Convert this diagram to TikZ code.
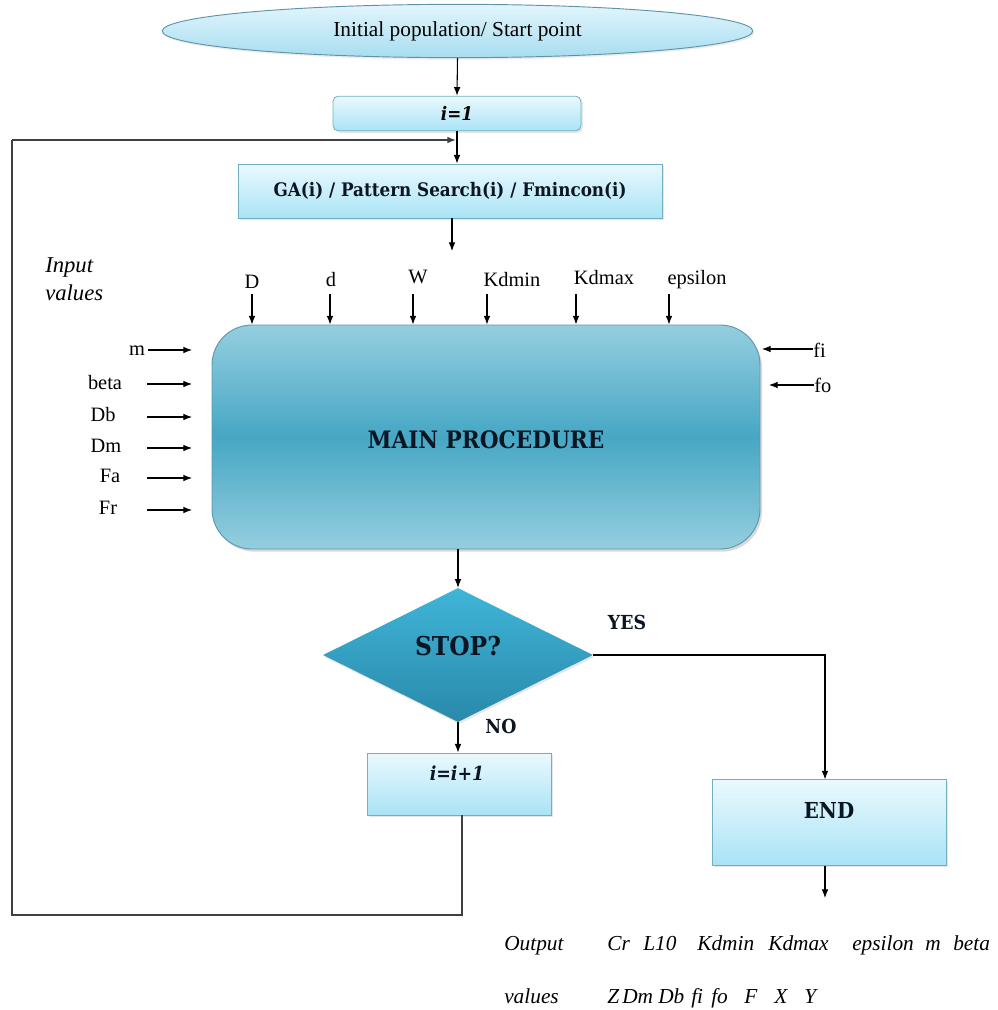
\documentclass[tikz,border=0pt]{standalone}
\usepackage{fontspec}
\setmainfont{Liberation Serif}
\newfontfamily\heavy{DejaVu Serif Condensed}
\usetikzlibrary{arrows.meta,shapes.geometric,shadows}

\definecolor{boxtop}{HTML}{EAF9FE}
\definecolor{boxbot}{HTML}{A9E3F6}
\definecolor{boxedge}{HTML}{74AEC2}
\definecolor{elltop}{HTML}{E2F5FC}
\definecolor{ellbot}{HTML}{A7DDF0}
\definecolor{elledge}{HTML}{5E93A8}
\definecolor{mainlight}{HTML}{95CEDF}
\definecolor{maindark}{HTML}{46A7C5}
\definecolor{mainedge}{HTML}{5C97AC}
\definecolor{stoptop}{HTML}{3FB5D8}
\definecolor{stopbot}{HTML}{2A89AA}
\definecolor{ink}{HTML}{0B1622}

\begin{document}
\begin{tikzpicture}[x=0.75pt,y=-0.75pt,
  arr/.style={-{Latex[length=6.5pt,width=5pt]}, line width=0.8pt, black},
  loopline/.style={line width=1pt, black!75},
  lightbox/.style={draw=boxedge, line width=0.6pt, top color=boxtop, bottom color=boxbot,
    inner sep=0pt, drop shadow={opacity=0.2, shadow xshift=1.5pt, shadow yshift=-1.5pt}},
  lbl/.style={font=\fontsize{15.3}{18}\selectfont, inner sep=0pt},
  ital/.style={font=\fontsize{16}{19}\selectfont\itshape, inner sep=0pt},
  bold/.style={font=\fontsize{14}{17}\selectfont\heavy\bfseries, text=ink, inner sep=0pt},
]
\useasboundingbox (0,0) rectangle (998,1010);

% start ellipse
\node[ellipse, draw=elledge, line width=0.7pt, top color=elltop, bottom color=ellbot,
  minimum width=443pt, minimum height=40pt, inner sep=0pt,
  drop shadow={opacity=0.15, shadow xshift=1pt, shadow yshift=-1.5pt}] (start) at (457.5,31)
  {\fontsize{16}{19}\selectfont Initial population/ Start point};

% counter initialisation
\node[lightbox, rounded corners=4pt, minimum width=186pt, minimum height=26pt] (i1) at (457,113.5)
  {\fontsize{14}{16}\selectfont\heavy\bfseries\itshape i=1};

% optimiser box
\node[lightbox, minimum width=318pt, minimum height=40.5pt, bold] (ga) at (450,191)
  {GA(i) / Pattern Search(i) / Fmincon(i)};

% main procedure
\node[draw=mainedge, line width=0.7pt, rounded corners=30pt, top color=mainlight, bottom color=mainlight,
  middle color=maindark, minimum width=411pt, minimum height=168pt, inner sep=0pt,
  drop shadow={opacity=0.3, shadow xshift=1.5pt, shadow yshift=-2pt}] (main) at (486,437) {};
\node[bold, font=\fontsize{18}{21}\selectfont\heavy\bfseries] (mainlbl) at (486,440) {MAIN PROCEDURE};

% decision
\node[diamond, top color=stoptop, bottom color=stopbot,
  minimum width=202.5pt, minimum height=100.5pt, inner sep=0pt,
  drop shadow={opacity=0.2, shadow xshift=1pt, shadow yshift=-1.5pt}] (stop) at (458,655) {};
\node[bold, font=\fontsize{19.5}{22}\selectfont\heavy\bfseries] (stoplbl) at (458,646) {STOP?};
\node[bold, font=\fontsize{14.5}{17}\selectfont\heavy\bfseries] (yes) at (627,622) {YES};
\node[bold, font=\fontsize{14.5}{17}\selectfont\heavy\bfseries] (no) at (501,726) {NO};

% increment and end boxes
\node[lightbox, minimum width=138pt, minimum height=46.5pt] (inc) at (459,784) {};
\node[bold, font=\fontsize{14.5}{17}\selectfont\heavy\bfseries\itshape] (inclbl) at (457,773) {i=i+1};
\node[lightbox, minimum width=175.5pt, minimum height=64pt] (endb) at (829,822.5) {};
\node[bold, font=\fontsize{16.5}{19}\selectfont\heavy\bfseries] (endlbl) at (829,810) {END};

% main flow
\draw[arr] (start.south) -- (i1.north);
\draw[arr] (i1.south) -- (i1.south |- ga.north);
\coordinate (gaout) at (452,251);
\draw[arr] (ga.south -| gaout) -- (gaout);
\draw[arr] (stop.north |- main.south) -- (stop.north);
\draw[arr] (stop.south) -- (stop.south |- inc.north);
\coordinate (yescol) at (825,0);
\draw[arr] (stop.east) -| (yescol |- endb.north);
\coordinate (endout) at (825,898);
\draw[arr] (endout |- endb.south) -- (endout);

% feedback loop
\coordinate (loopbot) at (462,915);
\coordinate (loopleft) at (12,140);
\coordinate (merge) at (456,140);
\draw[loopline] (loopbot |- inc.south) -- (loopbot) -| (loopleft);
\draw[loopline, -{Latex[length=6.5pt,width=5pt]}] (loopleft) -- (merge);

% input values
\node[ital, anchor=north west, align=left, font=\fontsize{17}{21}\selectfont\itshape] (inlbl) at (45,257) {Input\\values};

\foreach \name/\lx/\ly/\ax in {D/252/282/252, d/331/280/330, W/418/277/413,
    Kdmin/512/280/487, Kdmax/604/278/576, epsilon/697/280/669} {
  \node[lbl] (top-\name) at (\lx,\ly) {\name};
  \coordinate (tin-\name) at (\ax,294);
  \draw[arr] (tin-\name) -- (tin-\name |- main.north);
}

\foreach \name/\lx/\ly/\ax/\ay in {m/137/351/148/350, beta/105/383/147/384, Db/103/415/147/417,
    Dm/106/446/147/448, Fa/110/476/147/478, Fr/108/508/147/510} {
  \node[lbl] (left-\name) at (\lx,\ly) {\name};
  \coordinate (lin-\name) at (\ax,\ay);
  \coordinate (lend-\name) at (192,\ay);
  \draw[arr] (lin-\name) -- (lend-\name);
}

\node[lbl, anchor=west] (fi) at (813,350) {fi};
\coordinate (fiend) at (762,349);
\draw[arr] (fi.west |- fiend) -- (fiend);
\node[lbl, anchor=west] (fo) at (814,385) {fo};
\coordinate (foend) at (769,385);
\draw[arr] (fo.west |- foend) -- (foend);

% output values
\node[ital, anchor=base west] (out1) at (504,950) {Output};
\node[ital, anchor=base west] (out2) at (504,1003) {values};
\foreach \w/\x in {Cr/607, L10/643, Kdmin/697, Kdmax/768, epsilon/852, m/925, beta/953} {
  \node[ital, anchor=base west] at (\x,950) {\w};
}
\foreach \w/\x in {Z/607, Dm/622, Db/658, fi/691, fo/711, F/744, X/774, Y/804} {
  \node[ital, anchor=base west] at (\x,1003) {\w};
}
\end{tikzpicture}
\end{document}
